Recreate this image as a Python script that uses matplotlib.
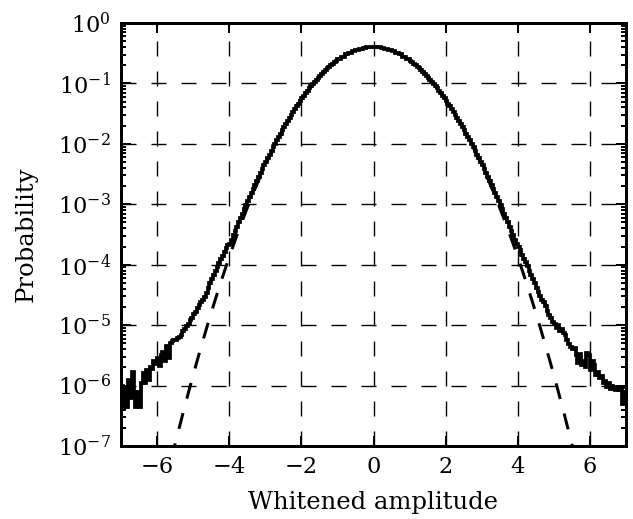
import numpy as np
import matplotlib
matplotlib.use("Agg")
import matplotlib.pyplot as plt

# ---------------- data (log10 of probability per bin) ----------------
# left tail: bins of width 0.05 from -7.00 to -4.00
log_p_left_tail = [
    -6.00, -6.35, -6.05, -6.35, -5.90, -6.20, -5.78, -6.10, -6.35, -6.10,
    -6.35, -5.95, -5.80, -5.95, -5.75, -5.90, -5.70, -5.72, -5.60, -5.65,
    -5.55, -5.68, -5.50, -5.45, -5.60, -5.35, -5.55, -5.30, -5.27, -5.25,
    -5.24, -5.22, -5.20, -5.17, -5.10, -5.06, -5.02, -4.98, -4.92, -4.88,
    -4.82, -4.78, -4.72, -4.66, -4.62, -4.58, -4.53, -4.46, -4.38, -4.30,
    -4.24, -4.17, -4.11, -4.04, -3.97, -3.91, -3.85, -3.79, -3.73, -3.68,
]
# left shoulder: bins of width 0.05 from -4.00 to -1.00
log_p_left_shoulder = [
    -3.664, -3.589, -3.514, -3.440, -3.368, -3.296, -3.226, -3.156, -3.086, -3.017,
    -2.949, -2.880, -2.812, -2.744, -2.677, -2.612, -2.547, -2.484, -2.420, -2.358,
    -2.300, -2.238, -2.178, -2.119, -2.060, -2.001, -1.944, -1.888, -1.833, -1.778,
    -1.729, -1.676, -1.624, -1.573, -1.523, -1.474, -1.426, -1.379, -1.334, -1.289,
    -1.246, -1.204, -1.162, -1.122, -1.083, -1.045, -1.008, -0.972, -0.938, -0.904,
    -0.871, -0.840, -0.809, -0.780, -0.752, -0.725, -0.699, -0.674, -0.650, -0.627,
]
# centre: bins of width 0.1 from -1.0 to 1.0
log_p_centre = [
    -0.595, -0.556, -0.521, -0.491, -0.465, -0.443, -0.426, -0.413, -0.404, -0.400,
    -0.400, -0.404, -0.413, -0.426, -0.443, -0.465, -0.491, -0.521, -0.556, -0.595,
]
# right shoulder: bins of width 0.05 from 1.00 to 4.00
log_p_right_shoulder = [
    -0.627, -0.650, -0.674, -0.699, -0.725, -0.752, -0.780, -0.809, -0.840, -0.871,
    -0.904, -0.938, -0.972, -1.008, -1.045, -1.083, -1.122, -1.162, -1.204, -1.246,
    -1.289, -1.334, -1.379, -1.426, -1.474, -1.523, -1.573, -1.624, -1.676, -1.729,
    -1.778, -1.833, -1.888, -1.944, -2.001, -2.060, -2.119, -2.178, -2.238, -2.300,
    -2.358, -2.420, -2.484, -2.547, -2.612, -2.677, -2.744, -2.812, -2.880, -2.949,
    -3.017, -3.086, -3.156, -3.226, -3.296, -3.368, -3.440, -3.514, -3.589, -3.664,
]
# right tail: bins of width 0.05 from 4.00 to 7.00
log_p_right_tail = [
    -3.70, -3.76, -3.84, -3.90, -3.96, -4.02, -4.10, -4.17, -4.24, -4.31,
    -4.38, -4.45, -4.52, -4.58, -4.62, -4.68, -4.76, -4.84, -4.88, -4.94,
    -4.98, -5.04, -5.00, -5.10, -5.06, -5.13, -5.16, -5.24, -5.32, -5.36,
    -5.40, -5.38, -5.50, -5.62, -5.48, -5.66, -5.60, -5.70, -5.46, -5.50,
    -5.74, -5.60, -5.66, -5.82, -5.78, -5.88, -5.84, -5.95, -5.92, -6.02,
    -5.96, -6.06, -6.00, -6.05, -6.08, -6.02, -6.08, -6.05, -6.30, -6.10,
]

gauss_mu = 0.0
gauss_sigma = 1.0

x_ticks = [-6, -4, -2, 0, 2, 4, 6]
x_label = "Whitened amplitude"
y_label = "Probability"

# ---------------- figure ----------------
DPI = 180
plt.rcParams["font.family"] = ["DejaVu Serif"]
plt.rcParams["mathtext.fontset"] = "dejavuserif"
plt.rcParams["lines.scale_dashes"] = False

fig = plt.figure(figsize=(633 / DPI, 519 / DPI), dpi=DPI)
ax = fig.add_axes([121 / 633, 1 - 446 / 519, (626 - 121) / 633, (446 - 23) / 519])

edges = np.concatenate([
    np.linspace(-7.0, -4.0, len(log_p_left_tail) + 1)[:-1],
    np.linspace(-4.0, -1.0, len(log_p_left_shoulder) + 1)[:-1],
    np.linspace(-1.0, 1.0, len(log_p_centre) + 1)[:-1],
    np.linspace(1.0, 4.0, len(log_p_right_shoulder) + 1)[:-1],
    np.linspace(4.0, 7.0, len(log_p_right_tail) + 1),
])
values = 10.0 ** np.array(log_p_left_tail + log_p_left_shoulder + log_p_centre
                          + log_p_right_shoulder + log_p_right_tail)

ax.stairs(values, edges, baseline=None, color="black", linewidth=1.5, zorder=3)

xg = np.linspace(-7, 7, 1000)
pdf = np.exp(-0.5 * ((xg - gauss_mu) / gauss_sigma) ** 2) / (gauss_sigma * np.sqrt(2 * np.pi))
ax.plot(xg, pdf, color="black", linewidth=1.2, linestyle=(0, (6.5, 6)), zorder=3)

ax.set_yscale("log")
ax.set_xlim(-7, 7)
ax.set_ylim(1e-7, 1e0)
ax.set_xticks(x_ticks)
ax.xaxis.set_minor_locator(matplotlib.ticker.NullLocator())

ax.grid(True, which="major", color="black", linewidth=0.55, linestyle=(0, (6, 6)))
ax.set_axisbelow(True)

for sp in ax.spines.values():
    sp.set_linewidth(1.2)

ax.tick_params(which="both", direction="in", top=True, right=True, width=0.8)
ax.tick_params(which="major", length=4, labelsize=9, pad=4)
ax.tick_params(which="minor", length=2)

ax.set_xlabel(x_label, fontsize=9.7, labelpad=5)
ax.set_ylabel(y_label, fontsize=9.7, labelpad=8)

fig.savefig("out.png", dpi=DPI)
